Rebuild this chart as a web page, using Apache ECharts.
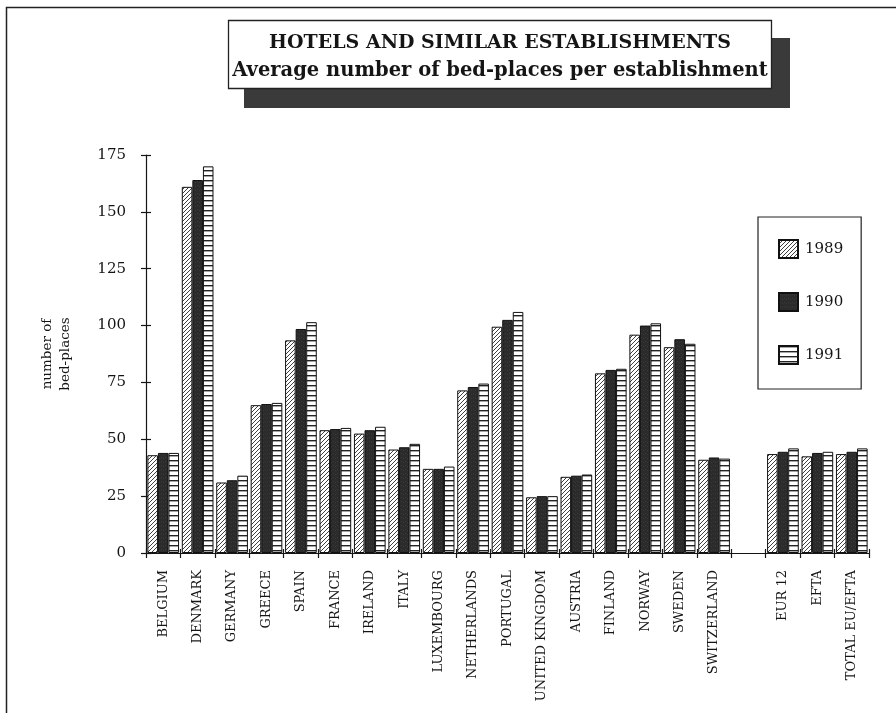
<!DOCTYPE html>
<html>
<head>
<meta charset="utf-8">
<script src="https://cdn.jsdelivr.net/npm/echarts@6/dist/echarts.min.js"></script>
<style>
  html, body { margin: 0; padding: 0; background: #ffffff; }
  #chart { width: 896px; height: 713px; }
</style>
</head>
<body>
<div id="chart"></div>
<script>
// Categories along the x axis (an empty slot separates countries from aggregates)
const categories = [
  'BELGIUM', 'DENMARK', 'GERMANY', 'GREECE', 'SPAIN', 'FRANCE', 'IRELAND',
  'ITALY', 'LUXEMBOURG', 'NETHERLANDS', 'PORTUGAL', 'UNITED KINGDOM',
  'AUSTRIA', 'FINLAND', 'NORWAY', 'SWEDEN', 'SWITZERLAND', '',
  'EUR 12', 'EFTA', 'TOTAL EU/EFTA'
];

// Average number of bed-places per establishment
const years = ['1989', '1990', '1991'];
const values1989 = [43, 161, 31, 65, 93.5, 54, 52.5, 45.5, 37, 71.5, 99.5, 24.5, 33.5, 79, 96, 90.5, 41, null, 43.5, 42.5, 43.5];
const values1990 = [44, 164, 32, 65.5, 98.5, 54.5, 54, 46.5, 37, 73, 102.5, 25, 34, 80.5, 100, 94, 42, null, 44.5, 44, 44.5];
const values1991 = [44, 170, 34, 66, 101.5, 55, 55.5, 48, 38, 74.5, 106, 25, 34.5, 81, 101, 92, 41.5, null, 46, 44.5, 46];

const yTicks = [0, 25, 50, 75, 100, 125, 150, 175];

const SERIF = '"DejaVu Serif", "Liberation Serif", serif';
const INK = '#151515';

// Fill patterns for the three years
function makeCanvas(w, h, draw) {
  const c = document.createElement('canvas');
  c.width = w; c.height = h;
  draw(c.getContext('2d'), w, h);
  return c;
}
const hatchDiag = makeCanvas(4, 4, (g, w, h) => {
  g.fillStyle = '#ffffff'; g.fillRect(0, 0, w, h);
  g.strokeStyle = '#2a2a2a'; g.lineWidth = 0.9;
  g.beginPath();
  g.moveTo(-1, h + 1); g.lineTo(w + 1, -1);
  g.moveTo(-1, 1); g.lineTo(1, -1);
  g.moveTo(w - 1, h + 1); g.lineTo(w + 1, h - 1);
  g.stroke();
});
const solidDark = makeCanvas(4, 4, (g, w, h) => {
  g.fillStyle = '#2b2b2b'; g.fillRect(0, 0, w, h);
  g.fillStyle = '#3a3a3a'; g.fillRect(1, 1, 1, 1); g.fillRect(3, 2, 1, 1);
});
const hatchHoriz = makeCanvas(4, 5, (g, w, h) => {
  g.fillStyle = '#ffffff'; g.fillRect(0, 0, w, h);
  g.fillStyle = '#222222'; g.fillRect(0, 0, w, 1.4);
});

const patterns = [hatchDiag, solidDark, hatchHoriz];
const seriesValues = [values1989, values1990, values1991];

const chart = echarts.init(document.getElementById('chart'), null, { renderer: 'canvas' });

const gridBox = { left: 146, right: 27, top: 155, bottom: 160 };

const option = {
  backgroundColor: '#ffffff',
  animation: false,
  textStyle: { fontFamily: SERIF, color: INK },
  grid: [
    Object.assign({}, gridBox),
    Object.assign({}, gridBox)
  ],
  legend: {
    orient: 'vertical',
    left: 758,
    top: 217,
    padding: [22, 18, 24, 20],
    itemWidth: 19,
    itemHeight: 18,
    itemGap: 33,
    borderColor: '#222',
    borderWidth: 1.2,
    icon: 'rect',
    data: years,
    textStyle: { fontFamily: SERIF, fontSize: 15, color: INK, padding: [0, 0, 0, 2] }
  },
  xAxis: [
    {
      type: 'category',
      gridIndex: 0,
      data: categories,
      boundaryGap: true,
      axisLine: { lineStyle: { color: INK, width: 1.2 } },
      axisTick: { show: true, length: 5, interval: 0, lineStyle: { color: INK, width: 1.2 } },
      axisLabel: {
        interval: 0, rotate: 90, margin: 17,
        fontFamily: SERIF, fontSize: 13, color: INK
      }
    },
    {
      type: 'category',
      gridIndex: 1,
      data: categories,
      boundaryGap: true,
      axisLine: { show: false },
      axisTick: { show: true, inside: true, length: 4, interval: 0, lineStyle: { color: INK, width: 1.2 } },
      axisLabel: { show: false }
    }
  ],
  yAxis: [
    {
      type: 'value',
      gridIndex: 0,
      min: 0, max: 175, interval: 25,
      name: 'number of\nbed-places',
      nameLocation: 'middle',
      nameRotate: 90,
      nameGap: 72,
      nameTextStyle: { fontFamily: SERIF, fontSize: 13.5, color: INK, lineHeight: 18 },
      axisLine: { show: true, lineStyle: { color: INK, width: 1.2 } },
      axisTick: { show: true, length: 5, lineStyle: { color: INK, width: 1.2 } },
      splitLine: { show: false },
      axisLabel: {
        margin: 20, fontFamily: SERIF, fontSize: 15, color: INK,
        formatter: v => (yTicks.indexOf(v) >= 0 ? String(v) : '')
      }
    },
    {
      type: 'value',
      gridIndex: 1,
      min: 0, max: 175, interval: 25,
      axisLine: { show: false },
      axisTick: { show: true, inside: true, length: 5, lineStyle: { color: INK, width: 1.2 } },
      splitLine: { show: false },
      axisLabel: { show: false }
    }
  ],
  series: years.map((y, i) => ({
    name: y,
    type: 'bar',
    xAxisIndex: 0,
    yAxisIndex: 0,
    data: seriesValues[i],
    barGap: '0%',
    barCategoryGap: '8%',
    itemStyle: {
      color: { image: patterns[i], repeat: 'repeat' },
      borderColor: '#111',
      borderWidth: 1
    },
    emphasis: { disabled: true }
  })),
  graphic: [
    // page frame
    {
      type: 'rect', silent: true,
      shape: { x: 6.5, y: 7.5, width: 920, height: 740 },
      style: { fill: null, stroke: '#222', lineWidth: 1.5 }
    },
    // title box shadow
    {
      type: 'rect', silent: true,
      shape: { x: 244, y: 38, width: 546, height: 70 },
      style: { fill: '#3a3a3a' }
    },
    // title box
    {
      type: 'rect', silent: true,
      shape: { x: 228.5, y: 20.5, width: 543, height: 68 },
      style: { fill: '#ffffff', stroke: '#222', lineWidth: 1.3 }
    },
    {
      type: 'text', silent: true,
      x: 500, y: 43,
      style: {
        text: 'HOTELS AND SIMILAR ESTABLISHMENTS',
        fill: INK, font: 'bold 19px ' + SERIF,
        align: 'center', verticalAlign: 'middle'
      }
    },
    {
      type: 'text', silent: true,
      x: 500, y: 71,
      style: {
        text: 'Average number of bed-places per establishment',
        fill: INK, font: 'bold 19.5px ' + SERIF,
        align: 'center', verticalAlign: 'middle'
      }
    }
  ]
};

chart.setOption(option);
</script>
</body>
</html>
